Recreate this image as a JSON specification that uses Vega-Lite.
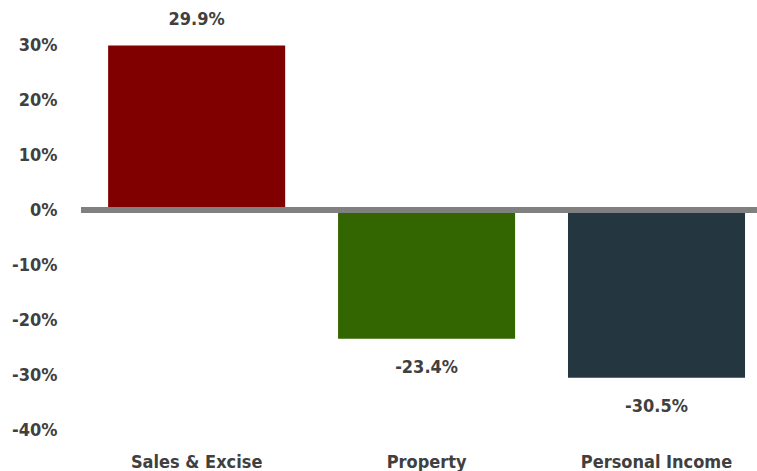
{
  "$schema": "https://vega.github.io/schema/vega-lite/v6.json",
  "autosize": {"type": "none"},
  "width": 676,
  "height": 385,
  "padding": {"left": 81, "top": 45, "right": 0, "bottom": 41},
  "background": "white",
  "config": {
    "view": {"stroke": null},
    "font": "DejaVu Sans Condensed, sans-serif",
    "axis": {"labelFont": "DejaVu Sans Condensed, sans-serif", "labelFontWeight": "bold", "labelFontSize": 18, "labelColor": "#404040", "domain": false, "ticks": false, "grid": false, "title": null}
  },
  "data": {
    "values": [
      {"category": "Sales & Excise", "value": 0.299, "label": "29.9%"},
      {"category": "Property", "value": -0.234, "label": "-23.4%"},
      {"category": "Personal Income", "value": -0.305, "label": "-30.5%"}
    ]
  },
  "encoding": {
    "x": {
      "field": "category", "type": "nominal", "sort": null,
      "scale": {"paddingInner": 0.23, "paddingOuter": 0.085, "align": 0.694},
      "axis": {"labelAngle": 0, "labelPadding": 23}
    },
    "y": {
      "field": "value", "type": "quantitative",
      "scale": {"domain": [-0.4, 0.3], "nice": false, "zero": false},
      "axis": {"values": [-0.4, -0.3, -0.2, -0.1, 0, 0.1, 0.2, 0.3], "labelExpr": "replace(format(datum.value, '.0%'), '\u2212', '-')", "labelPadding": 24}
    }
  },
  "layer": [
    {
      "mark": {"type": "bar"},
      "encoding": {
        "color": {
          "field": "category", "type": "nominal", "sort": null,
          "scale": {"domain": ["Sales & Excise", "Property", "Personal Income"], "range": ["#800000", "#336600", "#243741"]},
          "legend": null
        }
      }
    },
    {
      "mark": {"type": "rule", "color": "#808080", "strokeWidth": 6},
      "encoding": {"y": {"datum": 0}, "x": null}
    },
    {
      "transform": [{"filter": "datum.value >= 0"}],
      "mark": {"type": "text", "baseline": "middle", "dy": -26, "fontWeight": "bold", "fontSize": 18, "color": "#404040", "font": "DejaVu Sans Condensed, sans-serif"},
      "encoding": {"text": {"field": "label"}}
    },
    {
      "transform": [{"filter": "datum.value < 0"}],
      "mark": {"type": "text", "baseline": "middle", "dy": 29, "fontWeight": "bold", "fontSize": 18, "color": "#404040", "font": "DejaVu Sans Condensed, sans-serif"},
      "encoding": {"text": {"field": "label"}}
    }
  ]
}
